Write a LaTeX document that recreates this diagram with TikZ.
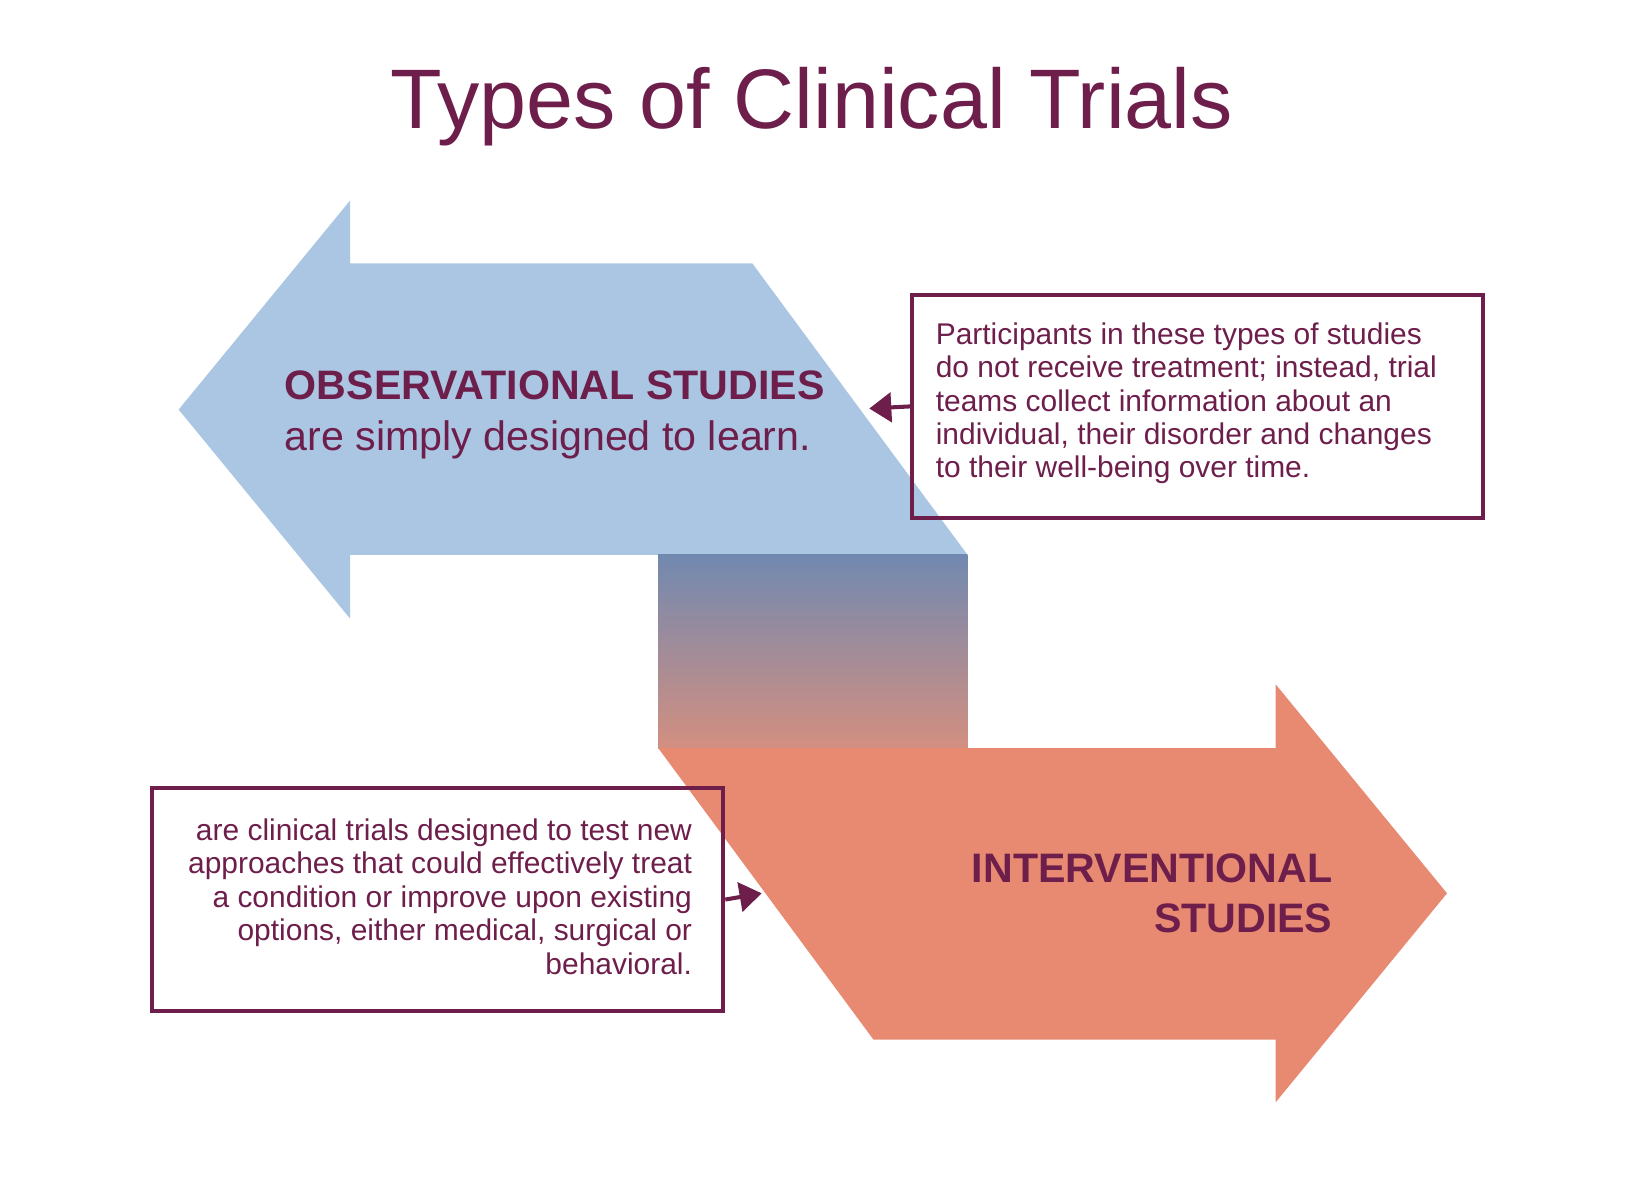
\documentclass[tikz,border=0pt]{standalone}
\usepackage{fontspec}
\setmainfont{Liberation Sans}
\usetikzlibrary{arrows.meta}
\definecolor{plum}{HTML}{6E1E4B}
\definecolor{lblue}{HTML}{ABC6E3}
\definecolor{salmon}{HTML}{E88A72}
\definecolor{gtop}{HTML}{7189B0}
\definecolor{gbot}{HTML}{D38F80}
\begin{document}
\begin{tikzpicture}[x=0.01cm,y=-0.01cm,
  box/.style={draw=plum,line width=1.1pt,inner sep=0pt,minimum width=5.46cm,minimum height=2.14cm},
  boxtext/.style={text=plum,font=\fontsize{8.15}{9.1}\selectfont,inner sep=0pt},
  big/.style={text=plum,font=\fontsize{11.2}{13.7}\selectfont,inner sep=0pt},
  conn/.style={draw=plum,line width=1.1pt,-{Triangle[length=6pt,width=8pt]}}]
\useasboundingbox (0,0) rectangle (1563,1127);
\fill[lblue] (171,392)--(335,192)--(335,252)--(720,252)--(926,531)--(335,531)--(335,592)--cycle;
\shade[top color=gtop,bottom color=gbot] (630,531) rectangle (926,716);
\fill[salmon] (630,716)--(1221,716)--(1221,655)--(1385,855)--(1221,1055)--(1221,995)--(836,995)--cycle;
\node[text=plum,font=\fontsize{23}{27}\selectfont,inner sep=0pt] (title) at (777,102) {Types of Clinical Trials};
\node[big,anchor=west,align=left] (obs) at (272,397) {\textbf{OBSERVATIONAL STUDIES}\\are simply designed to learn.};
\node[big,anchor=east,align=right] (int) at (1276,855) {\textbf{INTERVENTIONAL}\\\textbf{STUDIES}};
\node[box,anchor=north west] (rbox) at (871,280) {};
\node[boxtext,anchor=west,align=left] (rtext) at (895,386) {Participants in these types of studies\\do not receive treatment; instead, trial\\teams collect information about an\\individual, their disorder and changes\\to their well-being over time.};
\node[box,anchor=north west] (lbox) at (144,752) {};
\node[boxtext,anchor=east,align=right] (ltext) at (663,858) {are clinical trials designed to test new\\approaches that could effectively treat\\a condition or improve upon existing\\options, either medical, surgical or\\behavioral.};
\coordinate (rend) at (832,391);
\coordinate (lend) at (729,855);
\draw[conn] (rbox.west) -- (rend);
\draw[conn] (lbox.east) -- (lend);
\end{tikzpicture}
\end{document}
